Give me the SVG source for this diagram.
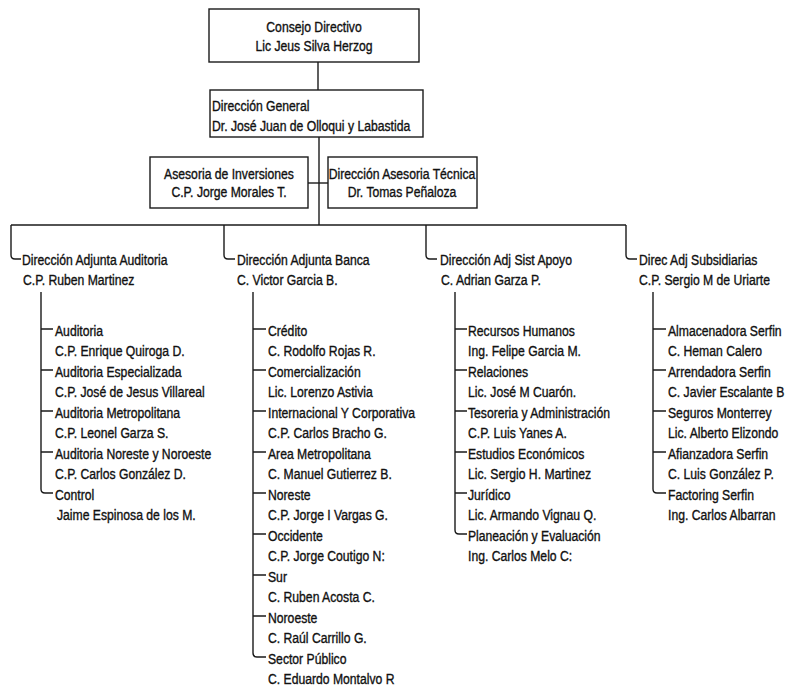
<svg xmlns="http://www.w3.org/2000/svg" width="788" height="692" viewBox="0 0 788 692">
<style>
.t{font-family:"Liberation Sans",Arial,sans-serif;font-size:14px;fill:#111;stroke:#111;stroke-width:0.35}
.c{text-anchor:middle}
.box{fill:#fff;stroke:#1a1a1a;stroke-width:1.4}
.ln{fill:none;stroke:#1a1a1a;stroke-width:1.4}
</style>
<rect width="788" height="692" fill="#fff"/>
<g id="connectors" class="ln">
<path d="M318 62 V90"/>
<path d="M319 137 V225"/>
<path d="M308 183 H328"/>
<path d="M11 225 H626"/>
<path d="M11 225 V255 Q11 259 15 259 H21"/>
<path d="M224 225 V255 Q224 259 228 259 H235"/>
<path d="M426 225 V255 Q426 259 430 259 H437"/>
<path d="M626 225 V255 Q626 259 630 259 H637"/>
<path d="M41 292 V489 Q41 493 45 493 H53 M41 329 H53 M41 370 H53 M41 411 H53 M41 452 H53"/>
<path d="M253 292 V653 Q253 657 257 657 H266 M253 329 H266 M253 370 H266 M253 411 H266 M253 452 H266 M253 493 H266 M253 534 H266 M253 575 H266 M253 616 H266"/>
<path d="M455 292 V530 Q455 534 459 534 H467 M455 329 H467 M455 370 H467 M455 411 H467 M455 452 H467 M455 493 H467"/>
<path d="M653 292 V489 Q653 493 657 493 H666 M653 329 H666 M653 370 H666 M653 411 H666 M653 452 H666"/>
</g>
<g id="consejo">
<rect class="box" x="209" y="9" width="210" height="53"/>
<text class="t c" transform="translate(314,32) scale(0.87,1)">Consejo Directivo</text>
<text class="t c" transform="translate(314,51) scale(0.87,1)">Lic Jeus Silva Herzog</text>
</g>
<g id="direccion-general">
<rect class="box" x="210" y="90" width="213" height="47"/>
<text class="t" transform="translate(212,111) scale(0.87,1)">Dirección General</text>
<text class="t" transform="translate(212,131) scale(0.87,1)">Dr. José Juan de Olloqui y Labastida</text>
</g>
<g id="asesoria-inversiones">
<rect class="box" x="150" y="157" width="158" height="51"/>
<text class="t c" transform="translate(229,179) scale(0.87,1)">Asesoria de Inversiones</text>
<text class="t c" transform="translate(229,197) scale(0.87,1)">C.P. Jorge Morales T.</text>
</g>
<g id="asesoria-tecnica">
<rect class="box" x="328" y="157" width="149" height="51"/>
<text class="t c" transform="translate(402,179) scale(0.87,1)">Dirección Asesoria Técnica</text>
<text class="t c" transform="translate(402,197) scale(0.87,1)">Dr. Tomas Peñaloza</text>
</g>
<g id="auditoria">
<text class="t" transform="translate(22,265) scale(0.87,1)">Dirección Adjunta Auditoria</text>
<text class="t" transform="translate(23,285) scale(0.87,1)">C.P. Ruben Martinez</text>
<text class="t" transform="translate(55,335.5) scale(0.87,1)">Auditoria</text>
<text class="t" transform="translate(55,356) scale(0.87,1)">C.P. Enrique Quiroga D.</text>
<text class="t" transform="translate(55,376.5) scale(0.87,1)">Auditoria Especializada</text>
<text class="t" transform="translate(55,397) scale(0.87,1)">C.P. José de Jesus Villareal</text>
<text class="t" transform="translate(55,417.5) scale(0.87,1)">Auditoria Metropolitana</text>
<text class="t" transform="translate(55,438) scale(0.87,1)">C.P. Leonel Garza S.</text>
<text class="t" transform="translate(55,458.5) scale(0.87,1)">Auditoria Noreste y Noroeste</text>
<text class="t" transform="translate(55,479) scale(0.87,1)">C.P. Carlos González D.</text>
<text class="t" transform="translate(55,499.5) scale(0.87,1)">Control</text>
<text class="t" transform="translate(57,520) scale(0.87,1)">Jaime Espinosa de los M.</text>
</g>
<g id="banca">
<text class="t" transform="translate(237,265) scale(0.87,1)">Dirección Adjunta Banca</text>
<text class="t" transform="translate(237,285) scale(0.87,1)">C. Victor Garcia B.</text>
<text class="t" transform="translate(268,335.5) scale(0.87,1)">Crédito</text>
<text class="t" transform="translate(268,356) scale(0.87,1)">C. Rodolfo Rojas R.</text>
<text class="t" transform="translate(268,376.5) scale(0.87,1)">Comercialización</text>
<text class="t" transform="translate(268,397) scale(0.87,1)">Lic. Lorenzo Astivia</text>
<text class="t" transform="translate(268,417.5) scale(0.87,1)">Internacional Y Corporativa</text>
<text class="t" transform="translate(268,438) scale(0.87,1)">C.P. Carlos Bracho G.</text>
<text class="t" transform="translate(268,458.5) scale(0.87,1)">Area Metropolitana</text>
<text class="t" transform="translate(268,479) scale(0.87,1)">C. Manuel Gutierrez B.</text>
<text class="t" transform="translate(268,499.5) scale(0.87,1)">Noreste</text>
<text class="t" transform="translate(268,520) scale(0.87,1)">C.P. Jorge I Vargas G.</text>
<text class="t" transform="translate(268,540.5) scale(0.87,1)">Occidente</text>
<text class="t" transform="translate(268,561) scale(0.87,1)">C.P. Jorge Coutigo N:</text>
<text class="t" transform="translate(268,581.5) scale(0.87,1)">Sur</text>
<text class="t" transform="translate(268,602) scale(0.87,1)">C. Ruben Acosta C.</text>
<text class="t" transform="translate(268,622.5) scale(0.87,1)">Noroeste</text>
<text class="t" transform="translate(268,643) scale(0.87,1)">C. Raúl Carrillo G.</text>
<text class="t" transform="translate(268,663.5) scale(0.87,1)">Sector Público</text>
<text class="t" transform="translate(268,684) scale(0.87,1)">C. Eduardo Montalvo R</text>
</g>
<g id="sist-apoyo">
<text class="t" transform="translate(440,265) scale(0.87,1)">Dirección Adj Sist Apoyo</text>
<text class="t" transform="translate(441,285) scale(0.87,1)">C. Adrian Garza P.</text>
<text class="t" transform="translate(468,335.5) scale(0.87,1)">Recursos Humanos</text>
<text class="t" transform="translate(468,356) scale(0.87,1)">Ing. Felipe Garcia M.</text>
<text class="t" transform="translate(468,376.5) scale(0.87,1)">Relaciones</text>
<text class="t" transform="translate(468,397) scale(0.87,1)">Lic. José M Cuarón.</text>
<text class="t" transform="translate(468,417.5) scale(0.87,1)">Tesoreria y Administración</text>
<text class="t" transform="translate(468,438) scale(0.87,1)">C.P. Luis Yanes A.</text>
<text class="t" transform="translate(468,458.5) scale(0.87,1)">Estudios Económicos</text>
<text class="t" transform="translate(468,479) scale(0.87,1)">Lic. Sergio H. Martinez</text>
<text class="t" transform="translate(468,499.5) scale(0.87,1)">Jurídico</text>
<text class="t" transform="translate(468,520) scale(0.87,1)">Lic. Armando Vignau Q.</text>
<text class="t" transform="translate(468,540.5) scale(0.87,1)">Planeación y Evaluación</text>
<text class="t" transform="translate(468,561) scale(0.87,1)">Ing. Carlos Melo C:</text>
</g>
<g id="subsidiarias">
<text class="t" transform="translate(639,265) scale(0.87,1)">Direc Adj Subsidiarias</text>
<text class="t" transform="translate(639,285) scale(0.87,1)">C.P. Sergio M de Uriarte</text>
<text class="t" transform="translate(668,335.5) scale(0.87,1)">Almacenadora Serfin</text>
<text class="t" transform="translate(668,356) scale(0.87,1)">C. Heman Calero</text>
<text class="t" transform="translate(668,376.5) scale(0.87,1)">Arrendadora Serfin</text>
<text class="t" transform="translate(668,397) scale(0.87,1)">C. Javier Escalante B</text>
<text class="t" transform="translate(668,417.5) scale(0.87,1)">Seguros Monterrey</text>
<text class="t" transform="translate(668,438) scale(0.87,1)">Lic. Alberto Elizondo</text>
<text class="t" transform="translate(668,458.5) scale(0.87,1)">Afianzadora Serfin</text>
<text class="t" transform="translate(668,479) scale(0.87,1)">C. Luis González P.</text>
<text class="t" transform="translate(668,499.5) scale(0.87,1)">Factoring Serfin</text>
<text class="t" transform="translate(668,520) scale(0.87,1)">Ing. Carlos Albarran</text>
</g>
</svg>
